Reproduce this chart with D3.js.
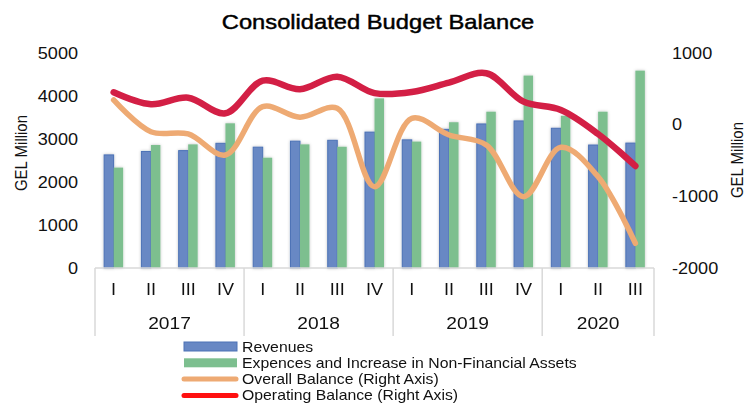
<!DOCTYPE html>
<html>
<head>
<meta charset="utf-8">
<script src="https://cdn.jsdelivr.net/npm/d3@7"></script>
<style>
  body { margin: 0; background: #fff; }
  svg { display: block; font-family: "Liberation Sans", Arial, sans-serif; }
</style>
</head>
<body>
<div id="chart"></div>
<script>
// data
const years = ["2017", "2018", "2019", "2020"];
const quarters = [["I", "II", "III", "IV"], ["I", "II", "III", "IV"], ["I", "II", "III", "IV"], ["I", "II", "III"]];
const revenues = [2630, 2710, 2730, 2900, 2810, 2950, 2970, 3160, 2980, 3225, 3350, 3420, 3250, 2860, 2905];
const expenses = [2335, 2860, 2875, 3365, 2565, 2875, 2820, 3945, 2940, 3390, 3635, 4475, 3540, 3635, 4590];
const overallBalance = [345, -98, -130, -423, 251, 103, 229, -865, 89, -144, -283, -1005, -315, -726, -1655];
const operatingBalance = [452, 285, 377, 159, 614, 494, 670, 440, 455, 586, 717, 321, 205, -130, -576];
const leftTicks = [0, 1000, 2000, 3000, 4000, 5000];
const rightTicks = [-2000, -1000, 0, 1000];

const W = 754, H = 403;
const SX = 1.13; // text in the picture is a bit stretched sideways
const colors = { rev: "#6888c4", revEdge: "#4c72b6", exp: "#7dbf8f", overall: "#eeaa73", operating: "#d31f45", legendRed: "#ff1010" };

const cats = [];
quarters.forEach((qs, i) => qs.forEach(q => cats.push(years[i] + "-" + q)));
const rows = cats.map((c, i) => ({
  key: c, q: c.split("-")[1], rev: revenues[i], exp: expenses[i],
  overall: overallBalance[i], operating: operatingBalance[i]
}));

const svg = d3.select("#chart").append("svg").attr("width", W).attr("height", H);

const defs = svg.append("defs");
defs.append("filter").attr("id", "shadow")
  .attr("x", "-50%").attr("y", "-10%").attr("width", "200%").attr("height", "120%")
  .append("feDropShadow").attr("dx", 0).attr("dy", 0).attr("stdDeviation", 1.4)
  .attr("flood-color", "#000").attr("flood-opacity", 0.25);

const x = d3.scaleBand().domain(cats).range([95, 654]).paddingInner(0).paddingOuter(0);
const x1 = d3.scaleBand().domain(["rev", "exp"]).range([0, 19]);
const yL = d3.scaleLinear().domain([0, 5000]).range([268, 53]);
const yR = d3.scaleLinear().domain([-2000, 1000]).range([268, 53]);

function stretchText(sel) {
  sel.attr("transform", `scale(${SX},1)`);
}

// title
svg.append("g").attr("transform", `translate(378,29) scale(${SX},1)`)
  .append("text").attr("text-anchor", "middle").attr("font-size", 21).attr("fill", "#000")
  .attr("stroke", "#000").attr("stroke-width", 0.45)
  .text("Consolidated Budget Balance");

// left axis
const gL = svg.append("g").attr("transform", "translate(78,0)")
  .call(d3.axisLeft(yL).tickValues(leftTicks).tickFormat(d => String(d)).tickSize(0).tickPadding(0));
gL.select(".domain").remove();
gL.selectAll("text").attr("font-size", 16).attr("fill", "#111").attr("font-family", null).call(stretchText);

// right axis
const gR = svg.append("g").attr("transform", "translate(672,0)")
  .call(d3.axisRight(yR).tickValues(rightTicks).tickFormat(d => String(d)).tickSize(0).tickPadding(0));
gR.select(".domain").remove();
gR.selectAll("text").attr("font-size", 16).attr("fill", "#111").attr("font-family", null).call(stretchText);

// axis titles
svg.append("g").attr("transform", `translate(27,153) rotate(-90) scale(1,${SX})`)
  .append("text").attr("text-anchor", "middle").attr("font-size", 15).attr("fill", "#111").text("GEL Million");
svg.append("g").attr("transform", `translate(743,160) rotate(-90) scale(1,${SX})`)
  .append("text").attr("text-anchor", "middle").attr("font-size", 15).attr("fill", "#111").text("GEL Million");

// bars
const barG = svg.append("g").attr("filter", "url(#shadow)");
const groups = barG.selectAll("g.cat").data(rows).join("g")
  .attr("class", "cat")
  .attr("transform", d => `translate(${x(d.key) + x.bandwidth() / 2 - 9.5},0)`);
groups.append("rect")
  .attr("x", x1("rev")).attr("width", x1.bandwidth())
  .attr("y", d => yL(d.rev)).attr("height", d => yL(0) - yL(d.rev))
  .attr("fill", colors.rev).attr("stroke", colors.revEdge).attr("stroke-width", 1);
groups.append("rect")
  .attr("x", x1("exp")).attr("width", x1.bandwidth())
  .attr("y", d => yL(d.exp)).attr("height", d => yL(0) - yL(d.exp))
  .attr("fill", colors.exp);

// category axis (two levels)
const axisColor = "#d9d9d9";
svg.append("line").attr("x1", 95).attr("x2", 654).attr("y1", 268).attr("y2", 268)
  .attr("stroke", axisColor).attr("stroke-width", 1.5);
let idx = 0;
const bounds = [x.range()[0]];
quarters.forEach(qs => { idx += qs.length; bounds.push(idx < cats.length ? x(cats[idx]) : x.range()[1]); });
svg.selectAll("line.sep").data(bounds).join("line").attr("class", "sep")
  .attr("x1", d => d).attr("x2", d => d).attr("y1", 268).attr("y2", 336)
  .attr("stroke", axisColor).attr("stroke-width", 1.5);

svg.selectAll("g.qlab").data(rows).join("g").attr("class", "qlab")
  .attr("transform", d => `translate(${x(d.key) + x.bandwidth() / 2},295) scale(${SX},1)`)
  .append("text").attr("text-anchor", "middle").attr("font-size", 16).attr("fill", "#111")
  .text(d => d.q);
svg.selectAll("g.ylab").data(years).join("g").attr("class", "ylab")
  .attr("transform", (d, i) => `translate(${(bounds[i] + bounds[i + 1]) / 2},329) scale(${SX},1)`)
  .append("text").attr("text-anchor", "middle").attr("font-size", 17).attr("fill", "#111")
  .text(d => d);

// lines on the right axis
const cx = d => x(d.key) + x.bandwidth() / 2;
const lineOverall = d3.line().x(cx).y(d => yR(d.overall)).curve(d3.curveCatmullRom.alpha(0.5));
const lineOperating = d3.line().x(cx).y(d => yR(d.operating)).curve(d3.curveCatmullRom.alpha(0.5));
svg.append("path").datum(rows).attr("d", lineOverall)
  .attr("fill", "none").attr("stroke", colors.overall).attr("stroke-width", 5.5)
  .attr("stroke-linecap", "round").attr("stroke-linejoin", "round");
svg.append("path").datum(rows).attr("d", lineOperating)
  .attr("fill", "none").attr("stroke", colors.operating).attr("stroke-width", 6.5)
  .attr("stroke-linecap", "round").attr("stroke-linejoin", "round");

// legend
const legendItems = [
  { label: "Revenues", type: "rect", fill: colors.rev, stroke: colors.revEdge },
  { label: "Expences and Increase in Non-Financial Assets", type: "rect", fill: colors.exp, stroke: null },
  { label: "Overall Balance (Right Axis)", type: "line", fill: colors.overall },
  { label: "Operating Balance (Right Axis)", type: "line", fill: colors.legendRed }
];
const leg = svg.selectAll("g.leg").data(legendItems).join("g").attr("class", "leg")
  .attr("transform", (d, i) => `translate(0,${346.5 + i * 16.3})`);
leg.each(function (d) {
  const g = d3.select(this);
  if (d.type === "rect") {
    g.append("rect").attr("x", 184).attr("y", -4.5).attr("width", 53).attr("height", 9)
      .attr("fill", d.fill).attr("stroke", d.stroke || "none").attr("stroke-width", 1);
  } else {
    g.append("line").attr("x1", 184).attr("x2", 236).attr("y1", 0).attr("y2", 0)
      .attr("stroke", d.fill).attr("stroke-width", 5).attr("stroke-linecap", "round");
  }
  g.append("g").attr("transform", `translate(242,5) scale(${SX},1)`)
    .append("text").attr("font-size", 14).attr("fill", "#111").text(d.label);
});
</script>
</body>
</html>
